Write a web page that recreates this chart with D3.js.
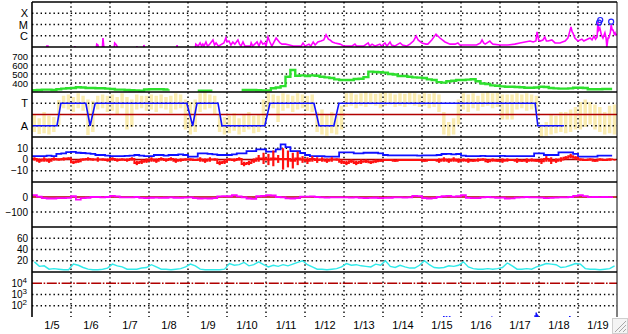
<!DOCTYPE html>
<html>
<head>
<meta charset="utf-8">
<script src="https://cdn.jsdelivr.net/npm/d3@7"></script>
<style>
  body { margin: 0; background: #fff; }
  svg { display: block; font-family: "Liberation Sans", Arial, sans-serif; }
</style>
</head>
<body>
<svg id="chart" width="628" height="334"></svg>
<script>
// ---- data (time = days since 1/5 00:00, 3-hour bins: 8 per day) ----
const dayLabels = ["1/5","1/6","1/7","1/8","1/9","1/10","1/11","1/12","1/13","1/14","1/15","1/16","1/17","1/18","1/19"];

const xrayTicks = [1e-6, 1e-5, 1e-4];
const xrayTickLabels = ["C", "M", "X"];
const speedTicks = [400, 500, 600, 700];
const sectorTicks = [90, 270];
const sectorTickLabels = ["A", "T"];
const bTicks = [-10, 0, 10];
const dstTicks = [-100, 0];
const kpTicks = [20, 40, 60];
const protonTicks = [1e2, 1e3, 1e4];

// GOES X-ray flux [day, W/m2]
const xrayFlux = [[0,5e-8],[0.36,5e-8],[0.38,1.2e-7],[0.41,1.2e-7],[0.43,5e-8],
  [1.08,5e-8],[1.10,1.2e-7],[1.12,5e-8],[1.64,5e-8],[1.66,1.8e-7],[1.69,1.5e-7],[1.72,5e-8],
  [1.80,5e-8],[1.82,6.3e-7],[1.84,1.2e-7],[1.86,5e-8],[2.10,5e-8],[2.12,2.3e-7],[2.15,1.8e-7],[2.18,1.2e-7],[2.20,5e-8],
  [2.67,5e-8],[2.69,1.2e-7],[2.71,5e-8],[2.85,5e-8],[2.87,1.5e-7],[2.90,5e-8],[3.70,5e-8],[3.72,1.5e-7],[3.74,5e-8],
  [4.18,5e-8],[4.20,1.8e-7],[4.26,1.2e-7],[4.31,2.3e-7],[4.35,1.2e-7],[4.38,1.8e-7],[4.41,1.2e-7],[4.46,2.8e-7],[4.50,1.2e-7],
  [4.54,1.5e-7],[4.64,4.2e-7],[4.68,1.5e-7],[4.72,2.3e-7],[4.78,1.2e-7],[4.92,2.3e-7],[4.97,6.3e-7],[5.00,2.8e-7],[5.05,3.4e-7],
  [5.10,1.5e-7],[5.15,2.8e-7],[5.20,1.8e-7],[5.28,4.2e-7],[5.32,1.8e-7],[5.36,1.2e-7],[5.41,2.8e-7],[5.46,1.2e-7],[5.60,1.2e-7],
  [5.62,2.3e-7],[5.66,1.2e-7],[5.77,2.8e-7],[5.82,1.2e-7],[5.87,3.4e-7],[5.92,1.8e-7],[5.97,2.3e-7],[6.00,1.2e-7],[6.05,7.7e-7],
  [6.10,2.8e-7],[6.15,1.2e-7],[6.26,6.3e-7],[6.30,4.2e-7],[6.36,2.3e-7],[6.41,1.8e-7],[6.50,1.8e-7],[6.60,1.5e-7],[6.70,1.2e-7],
  [6.90,1.2e-7],[6.95,2.3e-7],[7.00,1.2e-7],[7.10,1.8e-7],[7.15,1.2e-7],[7.21,2.8e-7],[7.26,1.5e-7],[7.33,2.8e-7],[7.41,3.4e-7],
  [7.48,4.2e-7],[7.54,1.2e-6],[7.60,5e-7],[7.64,4.2e-7],[7.70,2.8e-7],[7.77,2.3e-7],[7.90,1.8e-7],[8.00,1.2e-7],[8.20,1.2e-7],
  [8.28,1.8e-7],[8.32,1.2e-7],[8.50,1.2e-7],[8.62,2.3e-7],[8.66,1.2e-7],[8.72,1.8e-7],[8.80,1.2e-7],[8.92,1.8e-7],[8.96,1.2e-7],
  [9.05,2.3e-7],[9.10,1.2e-7],[9.18,2.8e-7],[9.22,1.5e-7],[9.30,1.2e-7],[9.44,2.3e-7],[9.50,1.5e-7],[9.60,1.2e-7],[9.69,1.8e-7],
  [9.78,3.4e-7],[9.85,9.5e-7],[9.90,4.2e-7],[10.00,2.3e-7],[10.10,1.8e-7],[10.15,1.8e-7],[10.25,4.2e-7],[10.36,1.4e-6],
  [10.46,6.3e-7],[10.59,2.8e-7],[10.72,1.8e-7],[10.85,1.8e-7],[10.92,2.3e-7],[10.97,1.5e-7],[11.20,1.5e-7],[11.40,1.5e-7],
  [11.50,2.3e-7],[11.54,4.2e-7],[11.58,2.3e-7],[11.62,1.8e-7],[11.74,3.4e-7],[11.78,2.3e-7],[11.82,1.8e-7],[12.00,1.5e-7],
  [12.20,1.5e-7],[12.38,1.8e-7],[12.51,2.3e-7],[12.64,2.8e-7],[12.77,3.4e-7],[12.85,2.8e-7],[12.92,3.4e-7],[12.95,2.2e-6],
  [12.99,4.2e-7],[13.03,3.4e-7],[13.10,4.2e-7],[13.15,7.7e-7],[13.19,3.4e-7],[13.23,3.4e-7],[13.33,4.2e-7],[13.41,2.3e-7],
  [13.54,2.3e-7],[13.60,2.8e-7],[13.67,3.4e-7],[13.74,6.3e-7],[13.77,1.4e-6],[13.82,6e-6],[13.85,2.2e-6],[13.87,1.8e-6],
  [13.92,6.3e-7],[14.00,3.4e-7],[14.10,5e-7],[14.15,3.4e-7],[14.20,4.2e-7],[14.31,6.3e-7],[14.36,4.2e-7],[14.41,9.5e-7],
  [14.45,5e-7],[14.49,7.7e-7],[14.51,1.7e-5],[14.53,3.2e-6],[14.56,4.9e-6],[14.60,1.2e-6],[14.64,6.3e-7],[14.69,1.8e-6],
  [14.72,6.3e-7],[14.74,1e-7],[14.77,6.3e-7],[14.79,6.3e-7],[14.83,2e-6],[14.85,9e-6],[14.88,3.2e-6],[14.90,3.2e-6],
  [14.93,1.4e-6],[14.95,1.8e-6],[14.97,1.2e-6],[15.0,1.4e-6]];
const xrayFlares = [[14.54,1.45e-5],[14.57,2.5e-5],[14.85,1.8e-5]];

// solar wind speed km/s
const speed = [319,322,326,326,322,330,337,341, 345,352,350,344,344,341,341,337,
  333,326,326,322,319,318,315,328, 330,330,330,328,330,null,null,null,
  null,null,315,315,315,315,null,null, null,null,null,322,322,322,320,318,
  318,341,350,365,470,545,480,485, 478,485,480,470,463,455,440,433,
  433,433,445,448,465,526,522,520, 515,500,495,478,478,470,463,460,
  455,440,433,410,404,419,425,433, 433,438,441,419,395,389,374,370,
  362,359,359,355,352,348,348,350, 359,355,344,340,337,337,340,348,
  348,345,330,330,330,333,333,333];

// IMF longitude spread (deg) per bin
const phiLo = [40,24,30,20,40, 96, 230,220,200,230,210, 16,40,
  220,230,200,210,180,230,60,80,220,230,210, 220,200,230,220,190,220,230, 60,20,40,
  200,220,230,180, 40,20,30,50,20,40,60,30,40,80, 220,230,120,210,230,200,220,230,210,200,
  40,20,10,30,20,60, 240,250,230,250,240,260,250,230,250,260,240,250,240,260,250,240,250,230,240,200,
  20,10,20,100, 220,200,230,210,240,250,230,240, 140,140,140, 220,230,210,220,200,
  0,10, 20,30,40, 30,40,60, 60,80,100,60,40, 20,30,20];
const phiHi = [180,150,200,170,160, 296, 330,340,320,350,330, 300,290,
  330,340,330,340,320,350,320,300,340,330,330, 340,330,340,320,330,350,340, 300,280,300,
  350,360,340,330, 180,160,170,190,150,180,200,170,180,300, 350,340,330,350,340,330,350,340,330,340,
  200,220,180,200,170,250, 350,355,340,350,360,350,345,350,355,350,340,350,345,355,350,340,350,345,350,340,
  200,120,150,300, 350,340,350,330,350,360,350,355, 340,340,340, 350,340,350,340,330,
  100,120, 180,170,200, 200,220,240, 280,300,280,260,240, 200,250,260];
// sector polarity [day, deg] (T = 270, A = 90)
const sector = [[0,90],[0.64,90],[0.74,270],[1.38,270],[1.49,90],[1.62,270],[3.97,270],[4.12,90],[4.23,270],
  [4.77,270],[4.87,90],[5.97,90],[6.10,270],[7.23,270],[7.36,90],[7.74,90],[7.87,270],[12.90,270],[12.97,90],[13.64,90]];

// IMF Bt and Bz (nT)
const bt = [3,3,3,3.5,3, 5,5.5, 6.5,6.7, 6,5.8,5.5,5, 4,4,3.5, 3,3,3,3.2, 3.5,4,3.5,3,
  3,4,4,3.5,4,4,4.5,4, 2.5,2.5, 5.5,5.5,5,4.5, 4,4,4,4.5,5.5, 5.5,7.5,7.5,9, 9,7,7,9,
  13.5,11,7.5,7.5, 5.8,4,3, 3,3,2.5,2.5,2.5, 6.4,6.4,6.4,5.5, 5.5,6,6,6,5.5,
  4,3.7,3.7,3.7,3.7,3.7,3.7,3.5,3.7,3.7,3.7,4, 4.9,5,4.5,4.9,
  3.5,3,3,3,3.2,3,3,3,3.2,3,3,3,3,3,3, 5.5,5.5,4, 4,4,6.4, 6.4,6.4,5, 2.5,2.5,2.5,2.5,3.4,3.4,3.4,3.4];
const bzLo = [-1,-3,-2,-3,-1, -1,-1, 0, -4,-3, -1,-1,-1, -2,-1,-2,-1,-2, -1,-2,-1, -5,-4, -3,
  -2,-3,-1,-2,-1,-3,-2,-1, -1,-1, -2,-3,-2,-1, -5,-4, -1,-2,-1, -6,-5,-3,-2, -4,-5,-6,-3,
  -9,-7,-8,-5, -3,-4,-2, -3,-2,-3,-2,-1, -4,-5,-3,-5,-4,-3,-4,-3, -2,-1,-1,-2,-1,
  -1,-1,-1,-1,-2,-1,-1, -3,-2,-3,-2,-3, -2,-3,-2,-2,-1,-3,-2,-2,-3,-2,-1,-3,-2,-3,-2,-2,
  -4,-2,-4,-3,-2, 0,1,0, -1,-1,-1,-2,-1,-1,-1,-1];
const bzHi = [2,1,2,1,2, 1,2, 2, -1,0, 1,2,1, 2,1,1,2,1, 1,1,2, -1,0, 1,
  2,1,2,1,2,1,1,1, 1,0, 2,1,2,1, -1,0, 1,1,2, -2,-1,1,4, 6,5,8,4,
  10,8,6,7, 3,2,3, 2,2,1,2,1, 0,-1,0,-1,0,0,-1,0, 0,0,0,0,0,
  0,0,0,0,0,0,0, 1,2,1,2,1, 1,1,0,1,1,0,1,0,1,1,0,1,0,1,1,0,
  1,3,2,1,2, 3,5,3, 1,0,1,0,1,0,1,0];

// Dst (nT)
const dst = [13,3,-8,-10,-10,-8,-7,-6, 5,-18,-8,-5,0,0,-2,0, 8,4,-3,-3,-2,0,-6,-7,
  -5,-4,-6,-5,-3,-5,-6,-4, -3,-8,-10,-9,-10,-8,4,6, 5,12,4,-3,-10,-12,5,8,
  12,10,0,-3,-9,-10,-8,3, 2,4,0,-3,-4,-2,-3,-2, -3,-4,-3,-6,-7,-6,-5,-7,
  -6,-5,-3,-2,-4,-3,8,6, -8,-10,-8,0,5,7,3,5, 12,-6,-8,-7,-2,0,-3,-5,
  -4,-10,-9,-4,-2,0,-2,-3, -4,-7,-6,-4,-3,-2,0,8, 12,6,-1,0,-1,0,-1,4];

// activity index
const kp = [18,10,11,5,6,5,4,4, 14,12,8,5,4,4,5,7, 14,11,9,5,5,5,7,8,
  13,9,5,5,4,5,6,9, 14,11,5,4,4,4,4,5, 15,12,13,17,11,13,18,13,
  9,12,10,13,11,14,17,20, 13,9,5,5,4,5,6,9, 15,12,13,11,10,9,14,12,
  20,10,8,12,9,7,7,12, 20,13,8,7,8,11,10,12, 18,9,6,5,5,6,5,6,
  8,16,11,5,5,6,5,9, 12,15,14,13,8,9,12,15, 14,6,5,5,4,5,6,11];

// particle flux marks near the bottom [day, pfu]
const protonMarks = [[10.56,12],[10.63,12],[10.71,12],[11.79,11],[12.90,14],[12.93,25],[12.95,18],[12.97,14],[13.79,12]];

// ---- layout ----
const svg = d3.select("#chart");
const plotLeft = 32, plotRight = 617, plotTop = 2, panelH = 45;
const pTop = k => plotTop + k * panelH;
const pBot = k => plotTop + (k + 1) * panelH;
const x = d3.scaleLinear().domain([0, 15]).range([plotLeft, plotRight]);
const binT = i => (i + 0.5) / 8;
const labelFont = "Liberation Sans, Arial, sans-serif";

const yX = d3.scaleLog().domain([1e-7, 1e-3]).range([pBot(0), pTop(0)]);
const ySpd = d3.scaleLinear().domain([300, 800]).range([pBot(1), pTop(1)]);
const yPhi = d3.scaleLinear().domain([0, 360]).range([pBot(2), pTop(2)]);
const yB = d3.scaleLinear().domain([-20, 20]).range([pBot(3), pTop(3)]);
const yDst = d3.scaleLinear().domain([-200, 100]).range([pBot(4), pTop(4)]);
const yKp = d3.scaleLinear().domain([0, 80]).range([pBot(5), pTop(5)]);
const yP = d3.scaleLog().domain([10, 1e5]).range([pBot(6), pTop(6)]);

const defs = svg.append("defs");
d3.range(7).forEach(k => {
  defs.append("clipPath").attr("id", `clip${k}`)
    .append("rect")
      .attr("x", plotLeft).attr("y", pTop(k))
      .attr("width", plotRight - plotLeft).attr("height", panelH);
});
const layer = k => svg.append("g").attr("clip-path", `url(#clip${k})`);

// yellow longitude spread goes underneath the grid
const binW = x(1 / 8) - x(0);
layer(2).selectAll("rect")
  .data(phiLo)
  .join("rect")
    .attr("x", (d, i) => x(i / 8) + 0.6)
    .attr("width", binW - 1.4)
    .attr("y", (d, i) => yPhi(phiHi[i]))
    .attr("height", (d, i) => yPhi(d) - yPhi(phiHi[i]))
    .attr("fill", "#f9e9a2")
    .attr("fill-opacity", 0.85);

// ---- dotted grid ----
const grid = svg.append("g")
  .attr("stroke", "#000")
  .attr("stroke-width", 1.4)
  .attr("stroke-dasharray", "1.4 2.9");

grid.selectAll(".vgrid")
  .data(d3.range(1, 15))
  .join("line")
    .attr("x1", d => x(d)).attr("x2", d => x(d))
    .attr("y1", pTop(0)).attr("y2", pBot(6));

const hGrid = [
  [yX, xrayTicks], [ySpd, speedTicks], [yPhi, sectorTicks], [yB, [-10, 10]],
  [yDst, [-100]], [yKp, kpTicks], [yP, [1e2, 1e3]]
];
hGrid.forEach(([y, vals]) => {
  grid.append("g").selectAll("line")
    .data(vals)
    .join("line")
      .attr("x1", plotLeft).attr("x2", plotRight)
      .attr("y1", d => y(d)).attr("y2", d => y(d));
});

// reference lines
const refLine = (y, v, dash, w) => svg.append("line")
  .attr("x1", plotLeft).attr("x2", plotRight)
  .attr("y1", y(v)).attr("y2", y(v))
  .attr("stroke", "#b00000")
  .attr("stroke-width", w)
  .attr("stroke-dasharray", dash);
refLine(yPhi, 180, null, 1.5);
refLine(yB, 0, null, 1.5);
refLine(yDst, 0, null, 1.5);
refLine(yP, 1e4, "10 1.6 1.6 1.6", 1.3);

// ---- data ----
layer(0).append("path")
  .datum(xrayFlux)
  .attr("fill", "none")
  .attr("stroke", "#f0f")
  .attr("stroke-width", 1.6)
  .attr("d", d3.line().x(d => x(d[0])).y(d => yX(d[1])));

layer(0).selectAll("circle")
  .data(xrayFlares)
  .join("circle")
    .attr("cx", d => x(d[0]))
    .attr("cy", d => yX(d[1]))
    .attr("r", 2.5)
    .attr("fill", "none")
    .attr("stroke", "#2020ff")
    .attr("stroke-width", 1.2);

layer(1).append("path")
  .datum(speed)
  .attr("fill", "none")
  .attr("stroke", "#2ee02e")
  .attr("stroke-width", 2.4)
  .attr("d", d3.line()
    .defined(d => d !== null)
    .curve(d3.curveStepAfter)
    .x((d, i) => x(i / 8))
    .y(d => ySpd(d)));

layer(2).append("path")
  .datum(sector)
  .attr("fill", "none")
  .attr("stroke", "#1010ff")
  .attr("stroke-width", 1.6)
  .attr("d", d3.line().x(d => x(d[0])).y(d => yPhi(d[1])));

layer(3).append("path")
  .datum(bt)
  .attr("fill", "none")
  .attr("stroke", "#1010ff")
  .attr("stroke-width", 1.8)
  .attr("d", d3.line().curve(d3.curveStepAfter).x((d, i) => x(i / 8)).y(d => yB(d)));

// Bz: per-bin spread bars plus a line through the bin middles
const bzLayer = layer(3);
bzLayer.selectAll("line")
  .data(bzLo)
  .join("line")
    .attr("x1", (d, i) => x(binT(i))).attr("x2", (d, i) => x(binT(i)))
    .attr("y1", d => yB(d)).attr("y2", (d, i) => yB(bzHi[i]))
    .attr("stroke", "#ff1010")
    .attr("stroke-width", 2.2);
bzLayer.append("path")
  .datum(bzLo.map((lo, i) => (lo + bzHi[i]) / 2))
  .attr("fill", "none")
  .attr("stroke", "#ff1010")
  .attr("stroke-width", 2)
  .attr("d", d3.line().curve(d3.curveStepAfter).x((d, i) => x(i / 8)).y(d => yB(d)));

layer(4).append("path")
  .datum(dst)
  .attr("fill", "none")
  .attr("stroke", "#f0f")
  .attr("stroke-width", 1.8)
  .attr("d", d3.line().curve(d3.curveStepAfter).x((d, i) => x(i / 8)).y(d => yDst(d)));

layer(5).append("path")
  .datum(kp)
  .attr("fill", "none")
  .attr("stroke", "#30eaea")
  .attr("stroke-width", 1.4)
  .attr("d", d3.line().x((d, i) => x(binT(i))).y(d => yKp(d)));

layer(6).selectAll("line")
  .data(protonMarks)
  .join("line")
    .attr("x1", d => x(d[0])).attr("x2", d => x(d[0]))
    .attr("y1", yP(10)).attr("y2", d => yP(d[1]))
    .attr("stroke", "#1010ff")
    .attr("stroke-width", 1.6);

// ---- frame ----
const frame = svg.append("g").attr("stroke", "#000").attr("stroke-width", 1.6);
frame.selectAll(".sep")
  .data(d3.range(7))
  .join("line")
    .attr("x1", plotLeft).attr("x2", plotRight)
    .attr("y1", d => pTop(d)).attr("y2", d => pTop(d));
frame.append("line").attr("x1", plotLeft).attr("x2", plotLeft).attr("y1", pTop(0)).attr("y2", pBot(6));
frame.append("line").attr("x1", plotRight).attr("x2", plotRight).attr("y1", pTop(0)).attr("y2", pBot(6))
  .attr("stroke-width", 1);

// ---- axes (labels only) ----
const leftAxis = (y, ticks, fmt, size) => {
  const g = svg.append("g")
    .attr("transform", `translate(${plotLeft},0)`)
    .call(d3.axisLeft(y).tickValues(ticks).tickFormat(fmt).tickSize(0).tickPadding(4));
  g.select(".domain").remove();
  g.selectAll("text").attr("font-size", size).attr("font-family", labelFont).attr("fill", "#000");
  return g;
};
leftAxis(yX, xrayTicks, (d, i) => xrayTickLabels[i], 11);
leftAxis(ySpd, speedTicks, d3.format("d"), 9.5);
leftAxis(yPhi, sectorTicks, (d, i) => sectorTickLabels[i], 11);
leftAxis(yB, bTicks, d3.format("d"), 10);
leftAxis(yDst, dstTicks, d3.format("d"), 10);
leftAxis(yKp, kpTicks, d3.format("d"), 10);
leftAxis(yP, protonTicks, () => "10", 10)
  .selectAll(".tick text")
  .attr("dx", -1)
  .each(function (d) {
    d3.select(this).append("tspan")
      .attr("dy", -4)
      .attr("font-size", 8)
      .text(Math.round(Math.log10(d)));
  });

const bottom = svg.append("g")
  .attr("transform", `translate(0,${pBot(6)})`)
  .call(d3.axisBottom(x)
    .tickValues(d3.range(15).map(d => d + 0.5))
    .tickFormat((d, i) => dayLabels[i])
    .tickSize(0)
    .tickPadding(4));
bottom.select(".domain").remove();
bottom.selectAll("text").attr("font-size", 11).attr("font-family", labelFont).attr("fill", "#000");

// window resize grip in the corner
const grip = svg.append("g");
grip.append("rect").attr("x", 612.5).attr("y", 318.5).attr("width", 15).attr("height", 15)
  .attr("fill", "#f4f4f4").attr("stroke", "#cfcfcf");
grip.selectAll("line")
  .data([4, 8, 12])
  .join("line")
    .attr("x1", d => 627 - d).attr("y1", 332)
    .attr("x2", 626).attr("y2", d => 333 - d)
    .attr("stroke", "#a8a8a8");
</script>
</body>
</html>
